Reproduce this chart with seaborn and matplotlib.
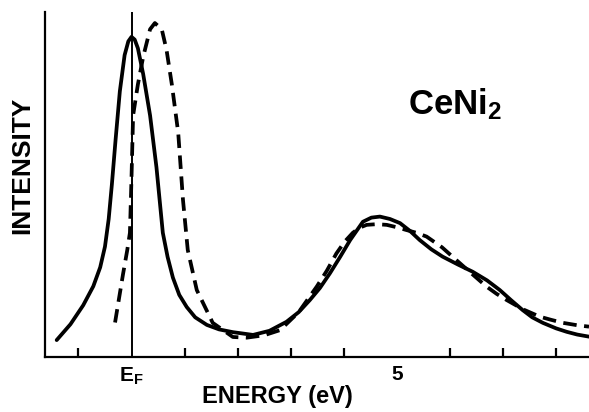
import matplotlib
matplotlib.use("Agg")
import matplotlib.pyplot as plt
import seaborn as sns
import pandas as pd
from matplotlib.ticker import FixedLocator

# Solid curve (energy in eV, intensity in arbitrary units)
solid_energy = [-1.41, -1.15, -0.91, -0.72, -0.59, -0.50, -0.43, -0.37, -0.30, -0.22,
                -0.13, -0.06, 0.0, 0.06, 0.12, 0.22, 0.35, 0.47, 0.59, 0.68,
                0.78, 0.90, 1.04, 1.20, 1.42, 1.65, 1.91, 2.29, 2.60, 2.92,
                3.15, 3.36, 3.55, 3.74, 3.93, 4.12, 4.36, 4.52, 4.68, 4.87,
                5.06, 5.25, 5.43, 5.65, 5.86, 6.15, 6.43, 6.70, 6.94, 7.15,
                7.37, 7.55, 7.75, 8.00, 8.20, 8.40, 8.62]
solid_intensity = [0.049, 0.095, 0.15, 0.205, 0.26, 0.32, 0.40, 0.50, 0.63, 0.77,
                   0.875, 0.915, 0.928, 0.92, 0.895, 0.82, 0.70, 0.55, 0.36, 0.29,
                   0.23, 0.18, 0.145, 0.115, 0.093, 0.080, 0.072, 0.064, 0.076, 0.102,
                   0.13, 0.165, 0.20, 0.243, 0.29, 0.339, 0.392, 0.404, 0.407, 0.400,
                   0.388, 0.365, 0.339, 0.312, 0.291, 0.268, 0.247, 0.222, 0.194, 0.165,
                   0.136, 0.115, 0.099, 0.083, 0.073, 0.065, 0.059]

# Dashed curve
dashed_energy = [-0.31, -0.16, -0.08, -0.03, 0.0, 0.03, 0.12, 0.22, 0.35, 0.44,
                 0.57, 0.66, 0.76, 0.88, 0.97, 1.06, 1.23, 1.53, 1.91, 2.17,
                 2.50, 2.80, 3.15, 3.49, 3.68, 3.86, 4.02, 4.17, 4.30, 4.43,
                 4.62, 4.81, 5.00, 5.18, 5.37, 5.56, 5.85, 6.12, 6.40, 6.69,
                 6.88, 7.07, 7.38, 7.69, 7.90, 8.13, 8.40, 8.62]
dashed_intensity = [0.10, 0.24, 0.31, 0.36, 0.52, 0.70, 0.79, 0.87, 0.95, 0.968,
                    0.95, 0.89, 0.79, 0.65, 0.455, 0.31, 0.194, 0.099, 0.058, 0.056,
                    0.063, 0.078, 0.13, 0.204, 0.25, 0.30, 0.335, 0.36, 0.375, 0.383,
                    0.385, 0.383, 0.376, 0.368, 0.360, 0.349, 0.318, 0.281, 0.243, 0.204,
                    0.183, 0.165, 0.138, 0.117, 0.108, 0.099, 0.092, 0.088]

major_ticks = [0, 5]
major_labels = [r"$\mathbf{E_F}$", "5"]
minor_ticks = [-1, 1, 2, 3, 4, 6, 7, 8]

sns.set_style("white")
plt.rcParams["font.family"] = ["Liberation Sans", "DejaVu Sans"]
plt.rcParams["mathtext.fontset"] = "custom"
plt.rcParams["mathtext.rm"] = "Liberation Sans"
plt.rcParams["mathtext.bf"] = "Liberation Sans:bold"
plt.rcParams["text.color"] = "black"
plt.rcParams["axes.labelcolor"] = "black"
plt.rcParams["xtick.color"] = "black"
plt.rcParams["xtick.labelcolor"] = "black"

fig = plt.figure(figsize=(5.89, 4.12), dpi=100)
ax = fig.add_axes([45 / 589, 55 / 412, 1 - 45 / 589, (357 - 12) / 412])

df_s = pd.DataFrame({"E": solid_energy, "I": solid_intensity})
df_d = pd.DataFrame({"E": dashed_energy, "I": dashed_intensity})

sns.lineplot(data=df_s, x="E", y="I", ax=ax, color="black", lw=2.7, sort=False,
             solid_joinstyle="round", solid_capstyle="round")
sns.lineplot(data=df_d, x="E", y="I", ax=ax, color="black", lw=2.7, sort=False)
ax.lines[-1].set_dashes((3.6, 2.0))
ax.lines[-1].set_dash_joinstyle("round")

ax.axvline(0, color="black", lw=1.4)

ax.set_xlim(-1.63, 8.62)
ax.set_ylim(0, 1)

for s in ["top", "right"]:
    ax.spines[s].set_visible(False)
for s in ["left", "bottom"]:
    ax.spines[s].set_color("black")
    ax.spines[s].set_linewidth(1.6)

ax.set_xticks(major_ticks)
ax.set_xticklabels(major_labels, fontsize=15, fontweight="bold", color="black")
ax.xaxis.set_minor_locator(FixedLocator(minor_ticks))
ax.tick_params(axis="x", which="major", direction="in", length=11, width=1.6,
               color="black", pad=6)
ax.tick_params(axis="x", which="minor", direction="in", length=6.5, width=1.6,
               color="black", bottom=True)
ax.set_yticks([])

ax.set_xlabel("ENERGY (eV)", fontsize=17, fontweight="bold", color="black")
ax.xaxis.set_label_coords((277 - 45) / 544, (357 - 397) / 345)
ax.xaxis.label.set_va("center")
ax.set_ylabel("INTENSITY", fontsize=19, fontweight="bold", color="black")
ax.yaxis.set_label_coords((22 - 45) / 544, (357 - 165) / 345)
ax.yaxis.label.set_va("center")

ax.text(5.21, 0.733, r"CeNi$\mathbf{_2}$", fontsize=25, fontweight="bold",
        ha="left", va="center", color="black")

fig.savefig("out.png", dpi=100)
